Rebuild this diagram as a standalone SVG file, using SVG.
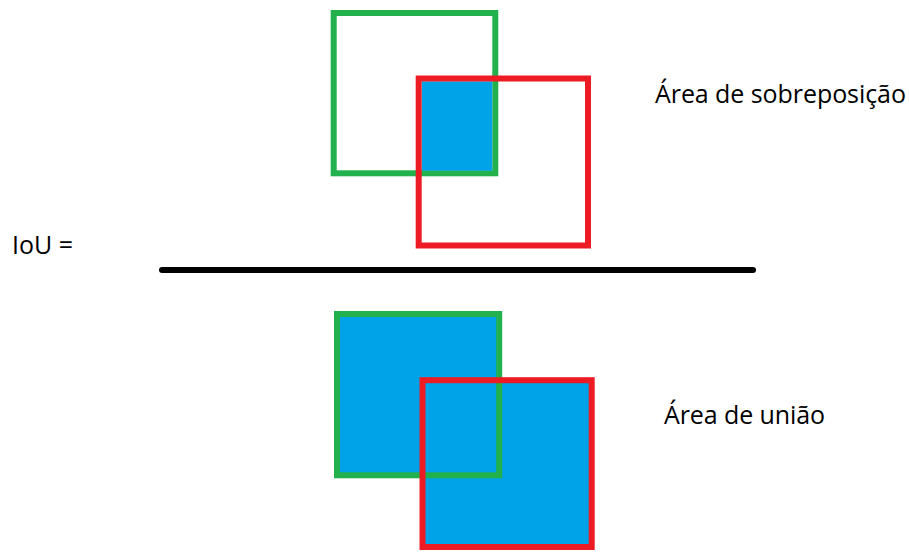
<svg xmlns="http://www.w3.org/2000/svg" width="909" height="552" viewBox="0 0 909 552">
<style>
.g{fill:none;stroke:#22B14C;stroke-width:6}
.r{fill:none;stroke:#ED1C24;stroke-width:6}
.b{fill:#00A2E8}
.t{font-family:"Open Sans","Noto Sans",sans-serif;font-size:25px;fill:#000}
</style>
<rect width="909" height="552" fill="#fff"/>
<g id="overlap">
<rect class="g" x="333.7" y="13" width="161.6" height="160.3"/>
<rect class="b" x="421.7" y="81.3" width="70.6" height="89.4"/>
<rect class="r" x="418.7" y="78.5" width="169.3" height="167"/>
</g>
<g id="union">
<rect class="b" x="337" y="314" width="162.2" height="161.3"/>
<rect class="b" x="422.5" y="380.2" width="169.2" height="166.8"/>
<rect class="g" x="337" y="314" width="162.2" height="161.3"/>
<rect class="r" x="422.5" y="380.2" width="169.2" height="166.8"/>
</g>
<g id="fraction">
<line x1="162" y1="270" x2="753" y2="270" stroke="#000" stroke-width="6" stroke-linecap="round"/>
</g>
<g id="labels">
<text class="t" x="12" y="254">IoU =</text>
<text class="t" x="655" y="103" textLength="251">Área de sobreposição</text>
<text class="t" x="664" y="424" textLength="161">Área de união</text>
</g>
</svg>
